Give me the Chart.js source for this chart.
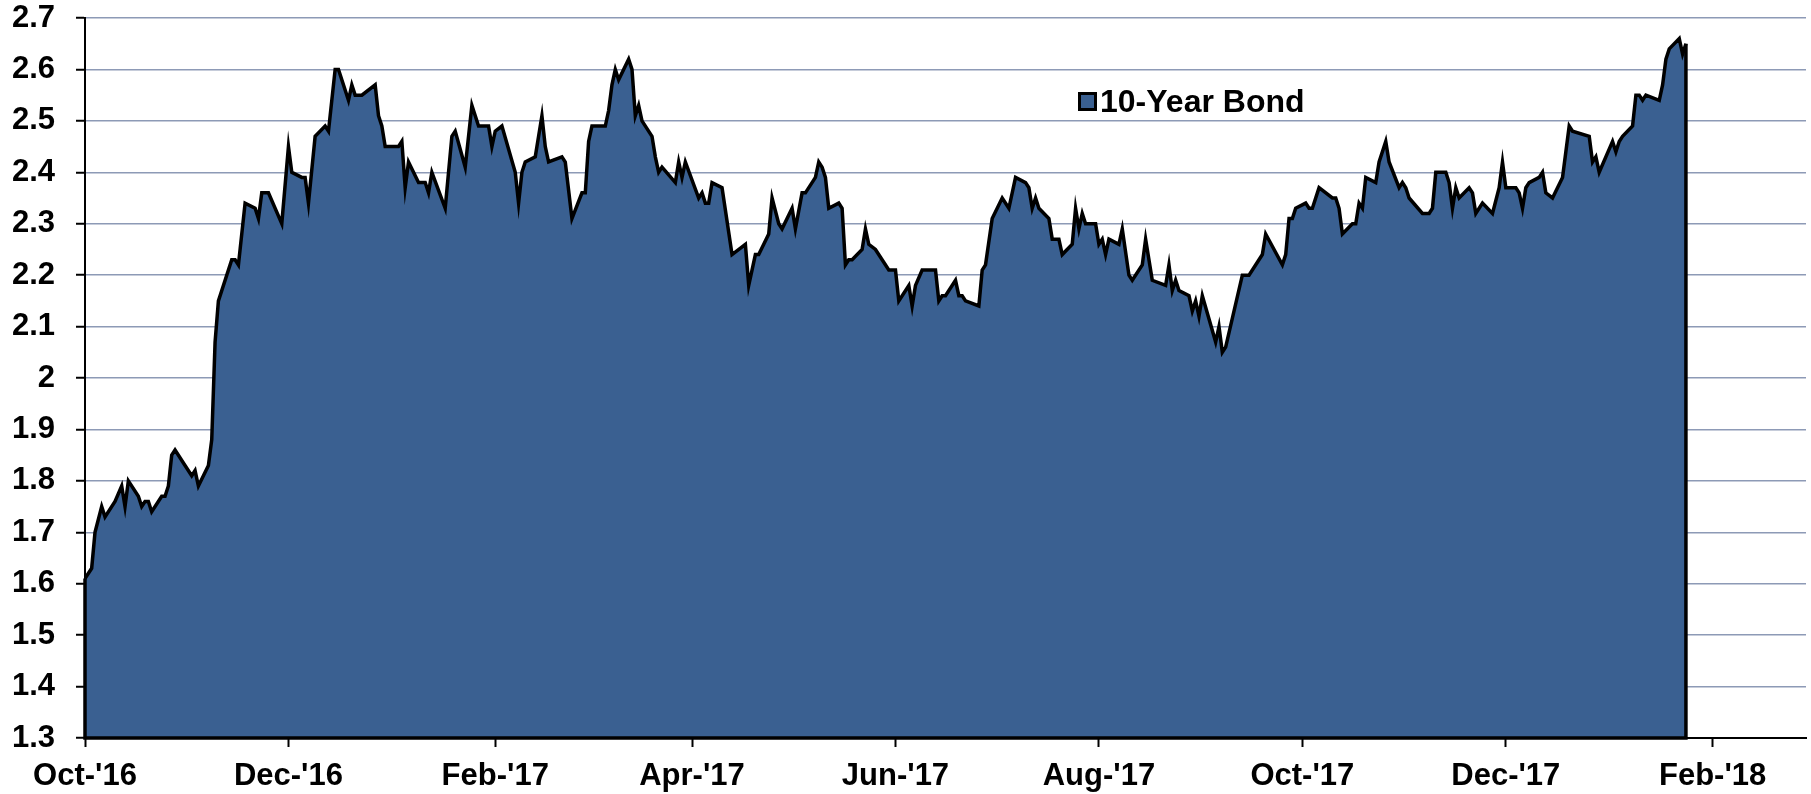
<!DOCTYPE html>
<html>
    <head>
        <meta http-equiv="Content-Type" content="text/html; charset=UTF-8">
        <title>10-Year Bond</title>
        <script src="https://cdn.jsdelivr.net/npm/chart.js@4/dist/chart.umd.min.js"></script>
        <style type="text/css">
            body { margin: 0; background: #ffffff; }
            .wrap { position: relative; width: 1811px; height: 794px; }
            .legend {
                position: absolute; left: 1078px; top: 85px;
                display: flex; align-items: center;
                font: bold 32px "Liberation Sans", Arial, sans-serif; line-height: 32px; color: #000;
            }
            .legend .box {
                width: 19px; height: 19px; box-sizing: border-box;
                border: 3px solid #000; background: #3A6091; margin-right: 3px;
            }
        </style>
    </head>
    <body>
        <div class="wrap">
            <canvas id="bond" width="1811" height="794"></canvas>
            <div class="legend"><span class="box"></span><span>10-Year Bond</span></div>
        </div>

        <script>
            // x = days since 1 Oct 2016
            var days = [0,2,3,5,6,9,11,12,13,16,17,18,19,20,23,24,25,26,27,30,32,33,34,37,38,39,40,44,45,46,48,51,52,53,55,59,
                61,62,65,66,67,69,72,73,75,76,79,80,81,83,87,88,89,90,94,95,96,97,100,102,103,104,108,110,111,114,116,118,121,122,123,125,
                129,130,131,132,135,137,138,139,143,144,146,149,150,151,152,156,157,158,159,160,163,164,165,166,167,170,171,172,173,177,178,179,180,
                184,185,186,187,188,191,194,198,199,201,202,205,206,208,209,212,213,215,216,219,220,221,222,223,226,227,228,229,230,233,234,235,237,
                241,243,244,247,248,249,251,255,256,257,258,261,262,263,264,268,269,270,272,275,277,279,282,283,284,285,286,289,290,292,293,296,297,298,299,300,
                303,304,305,306,307,310,311,313,314,317,318,320,324,325,326,327,328,331,332,333,334,335,339,340,341,342,347,349,353,354,359,360,361,362,363,
                366,367,368,370,374,375,376,377,380,381,382,383,384,387,388,390,391,394,395,396,397,401,403,404,405,408,409,410,411,412,415,416,417,419,422,424,425,
                426,429,430,431,432,433,436,437,438,440,443,444,445,446,451,452,453,454,458,459,460,461,464,465,466,467,468,472,473,474,475,478,479,480];
            var yields = [1.61,1.63,1.70,1.75,1.73,1.76,1.79,1.75,1.80,1.77,1.75,1.76,1.76,1.74,1.77,1.77,1.79,1.85,1.86,1.83,1.81,1.82,1.79,1.83,1.88,2.07,
                2.15,2.23,2.23,2.22,2.34,2.33,2.31,2.36,2.36,2.30,2.45,2.40,2.39,2.39,2.34,2.47,2.49,2.48,2.60,2.60,2.54,2.57,2.55,2.55,2.57,2.51,2.49,2.45,
                2.45,2.46,2.37,2.42,2.38,2.38,2.36,2.40,2.33,2.47,2.48,2.41,2.53,2.49,2.49,2.45,2.48,2.49,
                2.40,2.34,2.40,2.42,2.43,2.51,2.45,2.42,2.43,2.42,2.31,2.36,2.36,2.46,2.49,2.49,2.52,2.57,2.60,2.58,2.62,2.60,2.51,2.53,2.50,2.47,2.43,2.40,2.41,
                2.38,2.42,2.39,2.42,2.35,2.36,2.34,2.34,2.38,2.37,2.24,2.26,2.18,2.24,2.24,2.28,2.35,2.30,2.29,2.33,2.29,2.36,2.36,2.39,2.42,2.41,2.39,2.33,
                2.34,2.33,2.22,2.23,2.23,2.25,2.29,2.26,2.25,
                2.21,2.21,2.15,2.18,2.14,2.18,2.21,2.21,2.15,2.16,2.16,2.19,2.16,2.16,2.15,2.14,2.21,2.22,2.31,2.35,2.33,2.39,2.38,2.37,2.33,2.35,2.33,2.31,2.27,
                2.27,2.24,2.26,2.33,2.29,2.32,2.30,
                2.30,2.26,2.27,2.24,2.27,2.26,2.29,2.20,2.19,2.22,2.27,2.19,2.18,2.22,2.17,2.19,2.17,2.16,2.13,2.15,2.12,2.16,2.07,2.10,2.05,2.06,2.20,2.20,
                2.24,2.28,2.22,2.24,2.31,2.31,2.33,
                2.34,2.33,2.33,2.37,2.35,2.35,2.33,2.28,2.30,2.30,2.34,2.33,2.39,2.38,2.42,2.46,2.42,2.37,2.38,2.37,2.35,2.32,2.32,2.33,2.40,2.40,2.38,2.33,
                2.37,2.35,2.37,2.36,2.32,2.34,2.32,2.37,2.42,
                2.37,2.37,2.36,2.33,2.37,2.38,2.39,2.40,2.36,2.35,2.39,2.44,2.49,2.48,2.47,2.42,2.43,2.40,2.46,2.44,2.46,2.47,2.49,2.55,2.55,2.54,2.55,2.54,
                2.57,2.62,2.64,2.66,2.63,2.65];

            var tickDays = [0, 61, 123, 182, 243, 304, 365, 426, 488];
            var tickLabels = ["Oct-'16", "Dec-'16", "Feb-'17", "Apr-'17", "Jun-'17", "Aug-'17", "Oct-'17", "Dec-'17", "Feb-'18"];
            var yTicks = [1.3, 1.4, 1.5, 1.6, 1.7, 1.8, 1.9, 2.0, 2.1, 2.2, 2.3, 2.4, 2.5, 2.6, 2.7];

            var points = [];
            for (var i = 0; i < days.length; i++) {
                points.push({x: days[i], y: yields[i]});
            }

            var fontFamily = '"Liberation Sans", Arial, sans-serif';

            // Excel draws the border round the whole area, so close it down to the axis
            var closeArea = {
                id: 'closeArea',
                afterDatasetsDraw: function(chart) {
                    var meta = chart.getDatasetMeta(0);
                    var first = meta.data[0];
                    var last = meta.data[meta.data.length - 1];
                    var bottom = chart.scales.y.getPixelForValue(yTicks[0]);
                    var ctx = chart.ctx;
                    ctx.save();
                    ctx.strokeStyle = '#000000';
                    ctx.lineWidth = 3.5;
                    ctx.lineJoin = 'miter';
                    ctx.beginPath();
                    ctx.moveTo(last.x, last.y);
                    ctx.lineTo(last.x, bottom);
                    ctx.lineTo(first.x, bottom);
                    ctx.lineTo(first.x, first.y);
                    ctx.stroke();
                    ctx.restore();
                }
            };

            var bondChart = new Chart(document.getElementById('bond').getContext('2d'), {
                type: 'line',
                data: {
                    datasets: [{
                        label: '10-Year Bond',
                        data: points,
                        backgroundColor: '#3A6091',
                        borderColor: '#000000',
                        borderWidth: 3.5,
                        borderJoinStyle: 'miter',
                        pointRadius: 0,
                        tension: 0,
                        fill: 'start'
                    }]
                },
                options: {
                    responsive: false,
                    devicePixelRatio: 1,
                    animation: false,
                    layout: { padding: { left: 13, right: 5, top: 18, bottom: 0 } },
                    plugins: {
                        legend: { display: false },
                        tooltip: { enabled: false }
                    },
                    scales: {
                        x: {
                            type: 'linear',
                            min: 0,
                            max: 516,
                            afterBuildTicks: function(axis) {
                                axis.ticks = tickDays.map(function(d) { return {value: d}; });
                            },
                            afterFit: function(axis) {
                                axis.height = 56;
                                axis.paddingLeft = 0;
                                axis.paddingRight = 0;
                            },
                            ticks: {
                                autoSkip: false,
                                maxRotation: 0,
                                padding: 11,
                                color: '#000000',
                                font: { family: fontFamily, size: 31, weight: 'bold' },
                                callback: function(value) {
                                    return tickLabels[tickDays.indexOf(value)];
                                }
                            },
                            grid: {
                                drawOnChartArea: false,
                                drawTicks: true,
                                tickLength: 9,
                                tickColor: '#000000',
                                tickWidth: 2
                            },
                            border: { color: '#000000', width: 2 }
                        },
                        y: {
                            min: 1.3,
                            max: 2.7,
                            afterBuildTicks: function(axis) {
                                axis.ticks = yTicks.map(function(v) { return {value: v}; });
                            },
                            afterFit: function(axis) {
                                axis.width = 72;
                                axis.paddingTop = 0;
                                axis.paddingBottom = 0;
                            },
                            ticks: {
                                padding: 21,
                                color: '#000000',
                                font: { family: fontFamily, size: 31, weight: 'bold' },
                                callback: function(value) {
                                    return String(Number(value.toFixed(1)));
                                }
                            },
                            grid: {
                                color: '#8D9AB6',
                                lineWidth: 1.5,
                                tickLength: 9,
                                tickColor: '#000000',
                                tickWidth: 2
                            },
                            border: { color: '#000000', width: 2 }
                        }
                    }
                },
                plugins: [closeArea]
            });
        </script>
    </body>
</html>
